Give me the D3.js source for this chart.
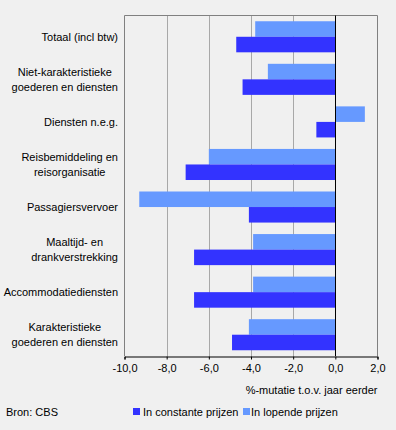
<!DOCTYPE html>
<html><head><meta charset="utf-8">
<script src="https://cdn.jsdelivr.net/npm/d3@7"></script>
<style>
html,body{margin:0;padding:0;background:#f0f0f0;}
text{font-family:"Liberation Sans",Arial,sans-serif;font-size:11px;fill:#000;}
</style></head>
<body><svg id="c" width="396" height="430"></svg>
<script>
const categories = [
  ["Totaal (incl btw)"],
  ["Niet-karakteristieke","goederen en diensten"],
  ["Diensten n.e.g."],
  ["Reisbemiddeling en","reisorganisatie"],
  ["Passagiersvervoer"],
  ["Maaltijd- en","drankverstrekking"],
  ["Accommodatiediensten"],
  ["Karakteristieke","goederen en diensten"]
];
const lopende   = [-3.8, -3.2, 1.4, -6.0, -9.3, -3.9, -3.9, -4.1];
const constante = [-4.7, -4.4, -0.9, -7.1, -4.1, -6.7, -6.7, -4.9];
const xTicks = [-10, -8, -6, -4, -2, 0, 2];
const seriesNames = ["In constante prijzen", "In lopende prijzen"];
const colors = {constante: "#3333ff", lopende: "#6699ff"};

const svg = d3.select("#c");
const L = 124.5, R = 377.5, T = 15.5, B = 356;
const x = d3.scaleLinear().domain([-10, 2]).range([L, R]);
const y = d3.scaleBand().domain(d3.range(categories.length)).range([T, B]).paddingInner(0.27).paddingOuter(0.135);
const sub = d3.scaleBand().domain(["lopende","constante"]).range([0, y.bandwidth()]);

// gridlines
svg.append("g").selectAll("line").data(xTicks.filter(d => d > -10 && d < 2 && d !== 0)).join("line")
  .attr("x1", d => Math.round(x(d)) + 0.5).attr("x2", d => Math.round(x(d)) + 0.5)
  .attr("y1", T).attr("y2", B).attr("stroke", "#a8a8a8").attr("stroke-width", 1);

// border
svg.append("path").attr("d", `M${L},${B}V${T}H${R}V${B}`).attr("fill","none").attr("stroke","#808080");

// bars
const g = svg.append("g");
categories.forEach((c, i) => {
  [["lopende", lopende[i]], ["constante", constante[i]]].forEach(([k, v]) => {
    g.append("rect")
      .attr("x", x(Math.min(0, v))).attr("width", Math.abs(x(v) - x(0)))
      .attr("y", y(i) + sub(k)).attr("height", sub.bandwidth())
      .attr("fill", colors[k]);
  });
});

// zero line
svg.append("line").attr("x1", Math.round(x(0)) + 0.5).attr("x2", Math.round(x(0)) + 0.5)
  .attr("y1", T).attr("y2", B).attr("stroke", "#000");

// x axis
const ax = svg.append("g").attr("transform", `translate(0,${B + 0.5})`)
  .call(d3.axisBottom(x).tickValues(xTicks).tickSize(3).tickPadding(5)
    .tickFormat(d => d3.format(".1f")(d).replace(".", ",").replace("−","-")));
ax.select(".domain").attr("stroke", "#000");
ax.selectAll(".tick line").attr("stroke", "#000");
ax.selectAll("text").style("font-family", '"Liberation Sans",Arial,sans-serif').style("font-size", "11px").attr("fill", "#000");

svg.append("text").attr("x", R).attr("y", 394).attr("text-anchor", "end").text("%-mutatie t.o.v. jaar eerder");

// category labels
categories.forEach((lines, i) => {
  const cy = y(i) + y.bandwidth() / 2;
  const lg = svg.append("g");
  const lh = 15;
  const ts = lines.map((t, j) => lg.append("text").attr("text-anchor", "middle")
    .attr("y", cy + (j - (lines.length - 1) / 2) * lh + 4).text(t));
  const w = d3.max(ts, t => t.node().getComputedTextLength());
  ts.forEach(t => t.attr("x", 118 - w / 2));
});

// legend
const lgd = svg.append("g");
lgd.append("rect").attr("x", 133).attr("y", 408).attr("width", 7).attr("height", 7).attr("fill", colors.constante);
lgd.append("text").attr("x", 143).attr("y", 416).text(seriesNames[0]);
lgd.append("rect").attr("x", 243).attr("y", 408).attr("width", 7).attr("height", 7).attr("fill", colors.lopende);
lgd.append("text").attr("x", 251).attr("y", 416).text(seriesNames[1]);

svg.append("text").attr("x", 6).attr("y", 416).text("Bron: CBS");
</script></body></html>
